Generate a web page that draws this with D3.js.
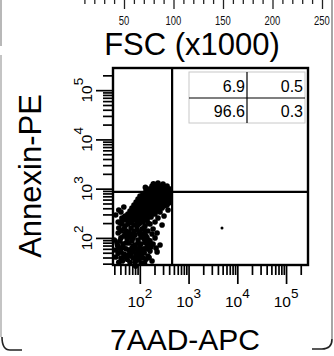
<!DOCTYPE html>
<html><head><meta charset="utf-8">
<script src="https://cdn.jsdelivr.net/npm/d3@7"></script>
<style>html,body{margin:0;padding:0;background:#fff;} svg{display:block;}</style>
</head><body>
<svg id="chart" width="334" height="356"></svg>
<script>
// FSC strip above the dot plot (values in thousands)
const fscMajorTicks = [50, 100, 150, 200, 250];
// decades on the log fluorescence axes
const decadeTicks = [100, 1000, 10000, 100000];
const decadeExponents = ["2", "3", "4", "5"];
// quadrant gate position: [7AAD-APC, Annexin-PE]
const gateAPC = [460];
const gatePE = [860];
// quadrant percentages: upper-left, upper-right, lower-left, lower-right
const quadrantPercent = ["6.9", "0.5", "96.6", "0.3"];
// events: [7AAD-APC, Annexin-PE]
const events = [
  [178,1133],[215,1187],[260,1133],[314,1081],[362,1133],
  [155,985],[178,1032],[205,1032],[236,985],[272,1032],[314,985],[362,1032],[417,985],
  [134,897],[155,897],[178,940],[205,897],[236,897],[272,940],[314,897],[362,897],[417,897],
  [116,780],[134,817],[155,817],[178,780],[205,817],[236,817],[272,780],[314,817],[362,817],[417,780],
  [101,710],[116,678],[134,710],[155,710],[178,678],[205,710],[236,710],[272,678],[314,710],[362,710],[417,678],
  [92,617],[106,589],[122,617],[141,617],[162,589],[187,617],[215,617],[248,589],[286,617],[329,617],[379,589],
  [84,536],[96,512],[111,536],[128,536],[147,512],[170,536],[196,536],[226,512],[260,536],[299,536],[345,536],[397,512],
  [76,466],[88,445],[101,466],[116,466],[134,445],[155,466],[178,466],[205,445],[236,466],[272,466],[314,445],[362,466],
  [69,405],[80,387],[92,405],[106,405],[122,387],[141,405],[162,405],[187,387],[215,405],[248,387],[286,405],
  [63,352],[73,336],[84,352],[96,352],[111,336],[128,352],[147,352],[170,352],[196,336],[226,352],
  [57,306],[66,292],[76,306],[88,306],[101,292],[116,306],[134,306],[155,292],[178,306],[205,306],
  [55,266],[63,254],[73,266],[84,266],[96,254],[111,266],[128,254],[147,266],[170,266],
  [52,231],[60,221],[69,231],[80,231],[92,231],[106,221],[122,231],[141,231],
  [66,210],[88,201],[116,210],[147,201],[50,279],[43,221],
  [43,192],[57,192],[76,183],[101,201],[128,175],[162,192],
  [37,159],[47,152],[66,159],[88,145],[111,152],[147,138],[187,152],
  [36,126],[50,120],[60,132],[80,115],[101,120],[134,109],[178,120],[226,126],
  [41,100],[55,95],[73,100],[92,91],[122,95],[162,87],[205,100],
  [34,79],[45,75],[60,79],[80,72],[106,75],[141,69],[187,75],
  [39,62],[52,60],[69,62],[92,57],[122,60],[162,54],[215,62],
  [36,49],[47,47],[63,49],[84,45],[111,47],[147,43],
  [41,39],[55,37],[73,39],[96,36],[134,37],[178,34],
  [37,32],[63,32],[106,31],
  [50,175],[88,175],[41,138],[76,138],[128,132],[47,109],[63,104],[106,104],[141,100],
  [39,87],[69,87],[52,79],[92,79],[162,75],[45,65],[80,62],[141,60],[60,57],[106,54],
  [41,52],[73,52],[55,45],[96,43],[47,41],[84,37],[116,39],[32,41],[80,32],
  [46,236],[40,200],[48,262],[66,205],[111,218],[95,190],[52,140],[122,160],[70,118],
  [98,130],[58,112],[118,120],[150,88],[35,70],[128,82],[73,68],[100,65],[170,66],
  [66,43],[123,50],[90,50],[44,34],[125,31],[155,40],[82,27],
  [32,292],[37,369],[43,254],[36,210],[260,336],[314,279],[379,369],[345,466],[236,254],
  [205,210],[286,183],[417,562],[30,91],[32,57],[47,424],[41,336],[226,52],[260,72],
  [236,1304],[299,1244],[130,1060],[190,1250],
  [4850,159]
];

const svg = d3.select("#chart");
const FONT = "'Liberation Sans', Arial, sans-serif";

// plot frame
const L = 113, R = 308, T = 68, B = 265;
const lo = Math.pow(10, 1.45), hi = Math.pow(10, 5.45);
const x = d3.scaleLog().domain([lo, hi]).range([L, R]);
const y = d3.scaleLog().domain([lo, hi]).range([B, T]);
const fsc = d3.scaleLinear().domain([0, 250]).range([74.5, 322]);

// outer bracket-like frame
svg.append("path").attr("d", "M1,0 L1,46").attr("stroke", "#a0a0a0").attr("stroke-width", 1.5).attr("fill", "none");
svg.append("path").attr("d", "M1,55 L1,337").attr("stroke", "#b0b0b0").attr("stroke-width", 1.5).attr("fill", "none");
svg.append("path").attr("d", "M2,337 Q2,350 10,350 L22,350").attr("stroke", "#222").attr("stroke-width", 1.6).attr("fill", "none");
svg.append("path").attr("d", "M332,0 L332,339").attr("stroke", "#888").attr("stroke-width", 1.5).attr("fill", "none");
svg.append("path").attr("d", "M332,339 Q332,349 322,349 L312,349").attr("stroke", "#222").attr("stroke-width", 1.6).attr("fill", "none");

// FSC strip ticks and labels
const fscMinor = fsc.ticks(25).filter(v => v > 0 && v % 50 !== 0);
const fscAxisMinor = svg.append("g").call(d3.axisBottom(fsc).tickValues(fscMinor).tickSize(4).tickFormat(""));
const fscAxisMajor = svg.append("g").call(d3.axisBottom(fsc).tickValues(fscMajorTicks).tickSize(9).tickFormat(""));
[fscAxisMinor, fscAxisMajor].forEach(g => {
  g.select(".domain").remove();
  g.selectAll("line").attr("stroke", "#222").attr("stroke-width", 1.3);
});
svg.append("g").selectAll("text").data(fscMajorTicks).join("text")
  .attr("transform", d => `translate(${fsc(d)},24.5) scale(0.7,1)`)
  .attr("text-anchor", "middle").attr("font-family", FONT).attr("font-size", 13.5)
  .attr("fill", "#111").text(d => d);
svg.append("text").attr("x", 192).attr("y", 55).attr("text-anchor", "middle")
  .attr("font-family", FONT).attr("font-size", 31).attr("fill", "#000").text("FSC (x1000)");

// log axes
const isDecade = v => Math.abs(Math.log10(v) - Math.round(Math.log10(v))) < 1e-9;
const minorX = x.ticks().filter(v => !isDecade(v));
const minorY = y.ticks().filter(v => !isDecade(v));

function styleAxis(g) {
  g.select(".domain").remove();
  g.selectAll("line").attr("stroke", "#000").attr("stroke-width", 1.7);
}
svg.append("g").attr("transform", `translate(0,${B})`)
  .call(d3.axisBottom(x).tickValues(minorX).tickSize(10).tickFormat("")).call(styleAxis);
svg.append("g").attr("transform", `translate(0,${B})`)
  .call(d3.axisBottom(x).tickValues(decadeTicks).tickSize(19).tickFormat("")).call(styleAxis);
svg.append("g").attr("transform", `translate(${L},0)`)
  .call(d3.axisLeft(y).tickValues(minorY).tickSize(10).tickFormat("")).call(styleAxis);
svg.append("g").attr("transform", `translate(${L},0)`)
  .call(d3.axisLeft(y).tickValues(decadeTicks).tickSize(17).tickFormat("")).call(styleAxis);

// decade labels
const xl = svg.append("g").selectAll("text").data(decadeTicks).join("text")
  .attr("x", d => x(d)).attr("y", 307).attr("text-anchor", "middle")
  .attr("font-family", FONT).attr("font-size", 15.5).attr("fill", "#000");
xl.append("tspan").text("10");
xl.append("tspan").attr("dy", -9).attr("font-size", 13.5).text((d, i) => decadeExponents[i]);

const yl = svg.append("g").selectAll("text").data(decadeTicks).join("text")
  .attr("transform", d => `translate(92,${y(d)}) rotate(-90)`).attr("text-anchor", "middle")
  .attr("font-family", FONT).attr("font-size", 15.5).attr("fill", "#000");
yl.append("tspan").text("10");
yl.append("tspan").attr("dy", -9).attr("font-size", 13.5).text((d, i) => decadeExponents[i]);

svg.append("text").attr("x", 185).attr("y", 350).attr("text-anchor", "middle")
  .attr("font-family", FONT).attr("font-size", 30).attr("fill", "#000").text("7AAD-APC");
svg.append("text").attr("transform", "translate(41,176) rotate(-90)").attr("text-anchor", "middle")
  .attr("font-family", FONT).attr("font-size", 31).attr("fill", "#000").text("Annexin-PE");

// events
svg.append("g").selectAll("circle").data(events).join("circle")
  .attr("cx", d => x(d[0])).attr("cy", d => y(d[1])).attr("r", d => d[0] > 1000 ? 1.5 : 2.8).attr("fill", "#000");

// plot border and quadrant gate
svg.append("rect").attr("x", L).attr("y", T).attr("width", R - L).attr("height", B - T)
  .attr("fill", "none").attr("stroke", "#000").attr("stroke-width", 2.4);
svg.append("line").attr("x1", x(gateAPC[0])).attr("x2", x(gateAPC[0])).attr("y1", T).attr("y2", B)
  .attr("stroke", "#000").attr("stroke-width", 2.2);
svg.append("line").attr("x1", L).attr("x2", R).attr("y1", y(gatePE[0])).attr("y2", y(gatePE[0]))
  .attr("stroke", "#000").attr("stroke-width", 2.4);

// quadrant statistics table
const tb = {x0: 189, x1: 305, xm: 247, y0: 72, y1: 123, ym: 98};
const tg = svg.append("g");
tg.append("rect").attr("x", tb.x0).attr("y", tb.y0).attr("width", tb.x1 - tb.x0).attr("height", tb.y1 - tb.y0)
  .attr("fill", "#fff").attr("stroke", "#c8c8c8").attr("stroke-width", 1);
tg.append("line").attr("x1", tb.x0).attr("x2", tb.x1).attr("y1", tb.ym).attr("y2", tb.ym).attr("stroke", "#000").attr("stroke-width", 1.2);
tg.append("line").attr("x1", tb.xm).attr("x2", tb.xm).attr("y1", tb.y0).attr("y2", tb.y1).attr("stroke", "#000").attr("stroke-width", 1.2);
const cellPos = [[tb.xm - 2, 92], [tb.x1 - 2, 92], [tb.xm - 2, 117], [tb.x1 - 2, 117]];
tg.selectAll("text.q").data(quadrantPercent).join("text").attr("class", "q")
  .attr("x", (d, i) => cellPos[i][0]).attr("y", (d, i) => cellPos[i][1])
  .attr("text-anchor", "end").attr("font-family", FONT).attr("font-size", 16).attr("fill", "#000")
  .text(d => d);
</script>
</body></html>
